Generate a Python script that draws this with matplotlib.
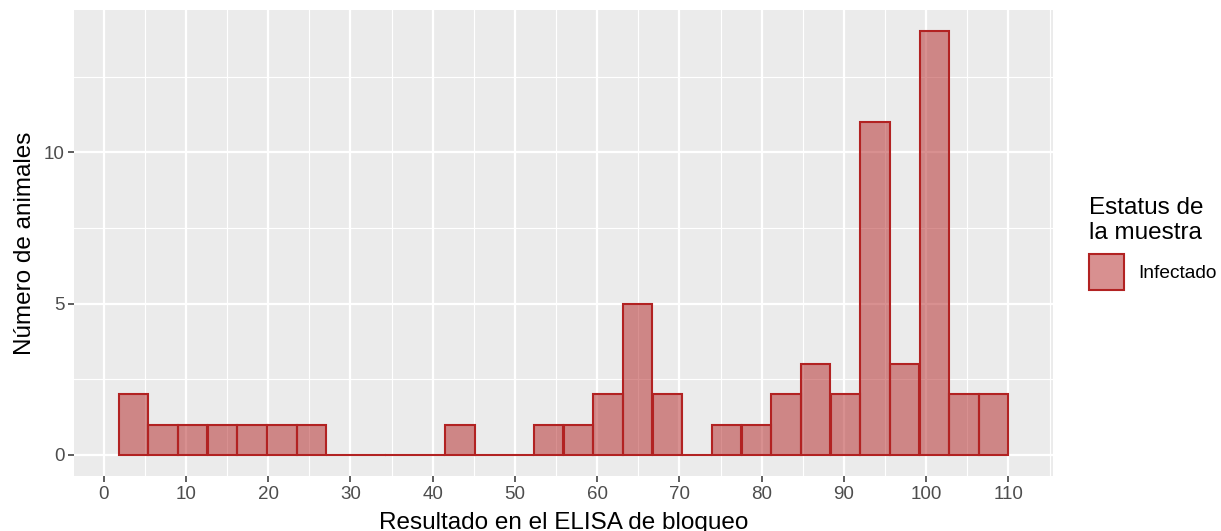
import numpy as np
import matplotlib.pyplot as plt
import matplotlib.patches as patches

plt.rcParams['font.family'] = ['Liberation Sans', 'DejaVu Sans']

# histogram data (30 bins, ggplot default)
bin_start = 1.8
bin_end = 110.0
counts = [2, 1, 1, 1, 1, 1, 1, 0, 0, 0, 0, 1, 0, 0, 1, 1, 2, 5, 2, 0,
          1, 1, 2, 3, 2, 11, 3, 14, 2, 2]
x_ticks = list(range(0, 111, 10))
y_ticks = [0, 5, 10]
legend_label = 'Infectado'

fill_col = '#b22222'
edge_col = '#b22222'

n = len(counts)
width = (bin_end - bin_start) / n
edges = bin_start + width * np.arange(n)

fig = plt.figure(figsize=(12.21, 5.31), dpi=100)
ax = fig.add_axes([74 / 1221, 1 - 476 / 531, (1053 - 74) / 1221, (476 - 10) / 531])
ax.set_facecolor('#EBEBEB')

# grid, ggplot style
for v in np.arange(5, 116, 10):
    ax.axvline(v, color='white', lw=0.8, zorder=0)
for v in [2.5, 7.5, 12.5]:
    ax.axhline(v, color='white', lw=0.8, zorder=0)
for v in x_ticks:
    ax.axvline(v, color='white', lw=1.6, zorder=0)
for v in y_ticks:
    ax.axhline(v, color='white', lw=1.6, zorder=0)

ax.bar(edges, counts, width=width, align='edge', color=fill_col, alpha=0.5,
       edgecolor='none', zorder=2)
ax.bar(edges, counts, width=width, align='edge', facecolor='none',
       edgecolor=edge_col, lw=1.5, zorder=3)

rng = bin_end - bin_start
ax.set_xlim(bin_start - 0.05 * rng, bin_end + 0.05 * rng)
ax.set_ylim(-0.05 * max(counts), max(counts) * 1.05)
ax.set_xticks(x_ticks)
ax.set_yticks(y_ticks)
ax.tick_params(colors='#333333', labelcolor='#4D4D4D', labelsize=13.5,
               length=4, width=1.1, pad=3)
for s in ax.spines.values():
    s.set_visible(False)

ax.set_xlabel('Resultado en el ELISA de bloqueo', fontsize=17.5, labelpad=7)
ax.set_ylabel('Número de animales', fontsize=17.5, labelpad=5)

handle = patches.Patch(facecolor=(0.698, 0.133, 0.133, 0.5),
                       edgecolor=edge_col, lw=1.5)
leg = fig.legend([handle], [legend_label], title='Estatus de\nla muestra',
                 loc='upper left', bbox_to_anchor=(1089 / 1221, 1 - 197 / 531),
                 frameon=False, fontsize=13.8, title_fontsize=17.5,
                 handlelength=1.8, handleheight=2.5, handletextpad=0.75,
                 alignment='left', borderaxespad=0, borderpad=0)

fig.savefig('out.png', dpi=100)
